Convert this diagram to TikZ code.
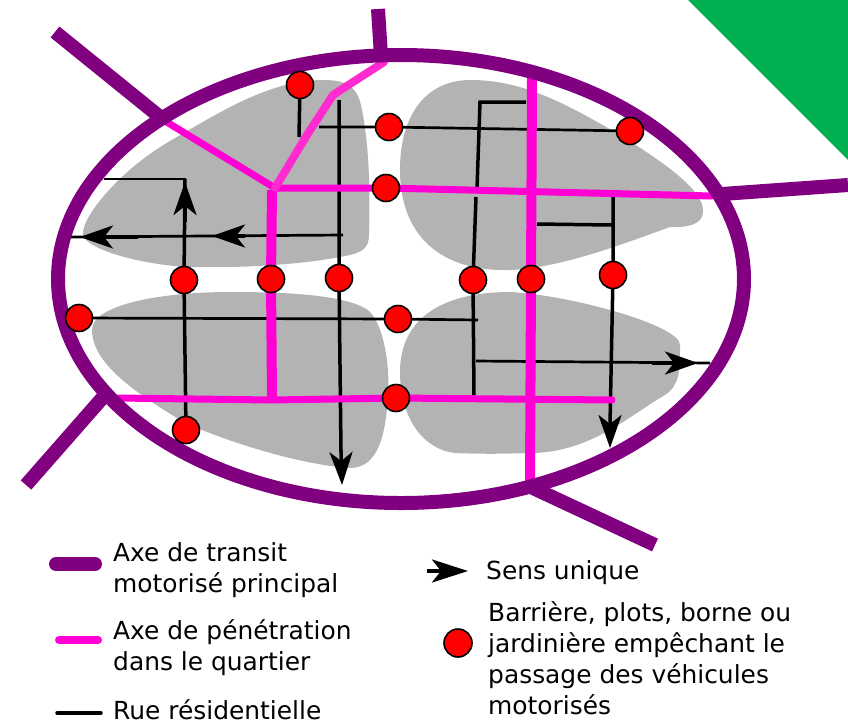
\documentclass[tikz,border=0pt]{standalone}
\usepackage{fontspec}
\setmainfont{DejaVu Sans}
\usetikzlibrary{arrows.meta}
\definecolor{axe}{HTML}{800080}
\definecolor{pen}{HTML}{FF00D4}
\definecolor{penb}{HTML}{FF2AD0}
\definecolor{ilot}{HTML}{B3B3B3}
\definecolor{vert}{HTML}{00B050}
\tikzset{
  transit/.style={draw=axe,line width=14pt},
  penetr/.style={draw=pen,line width=8pt},
  rue/.style={draw=black,line width=3.5pt},
  ruefine/.style={draw=black,line width=2.7pt},
  fleche/.style={draw=black,line width=3.5pt,-{Stealth[length=#1,width=23pt,inset=9pt]}},
  fleche/.default=33pt,
  plot/.style={circle,draw=black,line width=1.6pt,fill=red,minimum size=27pt,inner sep=0pt},
  ilotf/.style={fill=ilot,draw=none},
  legende/.style={anchor=west,align=left,font=\fontsize{24.9}{31}\selectfont,inner sep=0pt},
}
\begin{document}
\begin{tikzpicture}[x=1pt,y=-1pt]
\useasboundingbox (0,0) rectangle (848,724);
\fill[vert] (688,0) -- (848,0) -- (848,160) -- cycle;
% ilots
\fill[ilotf] (83,232) .. controls (84,215) and (120,170) .. (170,141)
  .. controls (220,112) and (270,80) .. (323,80)
  .. controls (345,80) and (358,85) .. (362,110)
  .. controls (370,150) and (370,200) .. (369,235)
  .. controls (369,248) and (362,252) .. (350,255)
  .. controls (300,266) and (230,268) .. (190,267)
  .. controls (150,266) and (80,250) .. (83,232) -- cycle;
\fill[ilotf] (400,170) .. controls (400,110) and (430,80) .. (470,80)
  .. controls (520,80) and (560,100) .. (620,135)
  .. controls (660,160) and (705,190) .. (703,212)
  .. controls (703,225) and (685,228) .. (670,227)
  .. controls (620,245) and (560,268) .. (510,270)
  .. controls (440,272) and (400,235) .. (400,170) -- cycle;
\fill[ilotf] (92,330) .. controls (92,305) and (160,292) .. (230,292)
  .. controls (290,292) and (345,295) .. (368,310)
  .. controls (385,325) and (390,370) .. (388,395)
  .. controls (386,430) and (380,468) .. (350,468)
  .. controls (300,465) and (220,440) .. (180,420)
  .. controls (140,395) and (92,365) .. (92,330) -- cycle;
\fill[ilotf] (400,372) .. controls (400,320) and (440,292) .. (510,292)
  .. controls (570,295) and (680,325) .. (680,345)
  .. controls (680,370) and (680,385) .. (665,395)
  .. controls (630,415) and (590,453) .. (530,453)
  .. controls (500,454) and (480,454) .. (455,453)
  .. controls (425,450) and (400,420) .. (400,372) -- cycle;
% coordonnees
\coordinate (nwA) at (55,32); \coordinate (nwB) at (165,121);
\coordinate (nA) at (378,9); \coordinate (nB) at (381,56);
\coordinate (eA) at (848,185); \coordinate (eB) at (722,194);
\coordinate (swA) at (26,485); \coordinate (swB) at (105,395);
\coordinate (seA) at (655,545); \coordinate (seB) at (533,488);
\coordinate (hub) at (275,188);
\coordinate (hubS) at (272,400);
\coordinate (vT) at (532,78); \coordinate (vB) at (530,482);
\coordinate (hE) at (712,196);
\coordinate (bW) at (117,398); \coordinate (bE) at (612,400);
% plots (positions)
\coordinate (p1) at (300,85);
\coordinate (p2) at (389,127);
\coordinate (p3) at (630,131);
\coordinate (p4) at (386,188);
\coordinate (p5) at (184,280);
\coordinate (p6) at (271,279);
\coordinate (p7) at (339,278);
\coordinate (p8) at (473,280);
\coordinate (p9) at (531,279);
\coordinate (p10) at (613,275);
\coordinate (p11) at (79,318);
\coordinate (p12) at (398,319);
\coordinate (p13) at (396,398);
\coordinate (p14) at (186,430);
% rues
\draw[rue] (p1) -- (299,137);
\draw[ruefine] (319,127) -- (p2) -- (p3);
\draw[rue] (339,100) -- (p7) -- (341,452);
\draw[fleche] (341,450) -- (342,485);
\draw[ruefine] (104,179) -- (186,179);
\draw[rue] (185,179) -- (p5) -- (p14);
\draw[fleche] (185,222) -- (185,182);
\draw[ruefine] (343,235) -- (69,237);
\draw[fleche] (245,236) -- (212,236);
\draw[fleche] (138,237) -- (80,237);
\draw[rue] (526,102) -- (480,102) -- (477,189);
\draw[rue] (476,197) -- (p8) -- (474,397);
\draw[rue] (537,224) -- (612,225);
\draw[rue] (613,197) -- (p10) -- (610,425);
\draw[fleche] (610,424) -- (610,448);
\draw[ruefine] (p11) -- (p12) -- (478,320);
\draw[ruefine] (476,361) -- (710,363);
\draw[fleche] (652,363) -- (698,363);
% penetration
\draw[penetr,line width=7pt] (bW) -- (hubS) -- (p13) -- (bE);
\draw[penetr,line width=7pt,line cap=round] (612,400) -- (bE);
\draw[penetr,line width=10pt] (272,190) -- (p6) -- (hubS);
\draw[penetr,line width=7pt,line cap=round] (hub) -- (p4) -- (hE);
\draw[penetr,line width=10pt] (vT) -- (p9) -- (vB);
\draw[penetr,line width=7pt] (nwB) -- (hub);
\draw[draw=penb,line width=8pt,line cap=round,line join=round] (384,62) -- (333,95) -- (307,135) -- (hub);
% axes
\draw[transit] (nwA) -- (nwB);
\draw[transit] (nA) -- (nB);
\draw[transit] (eA) -- (eB);
\draw[transit] (swA) -- (swB);
\draw[transit] (seA) -- (seB);
\draw[transit] (401,279) ellipse [x radius=343pt,y radius=224pt];
% plots
\foreach \n in {1,...,14}{\node[plot] (b\n) at (p\n) {};}
% legende
\coordinate (l1a) at (56,564); \coordinate (l1b) at (95,564);
\draw[transit,line cap=round] (l1a) -- (l1b);
\coordinate (l2a) at (59,640); \coordinate (l2b) at (98,640);
\draw[penetr,line cap=round] (l2a) -- (l2b);
\coordinate (l3a) at (57,713); \coordinate (l3b) at (101,713);
\draw[rue,line cap=round] (l3a) -- (l3b);
\coordinate (l4a) at (427,571); \coordinate (l4b) at (468,571);
\draw[fleche=36pt] (l4a) -- (l4b);
\node[plot,minimum size=28pt] (l5) at (458,643) {};
\node[legende] (t1) at (113,570) {Axe de transit\\motorisé principal};
\node[legende] (t2) at (113,648) {Axe de pénétration\\dans le quartier};
\node[legende] (t3) at (113,710) {Rue résidentielle};
\node[legende] (t4) at (486,573) {Sens unique};
\node[legende] (t5) at (488,658) {Barrière, plots, borne ou\\jardinière empêchant le\\passage des véhicules\\motorisés};
\end{tikzpicture}
\end{document}
